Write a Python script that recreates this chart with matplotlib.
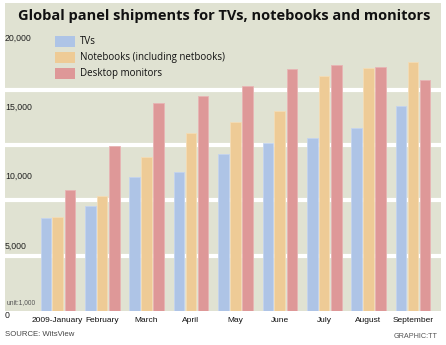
import numpy as np
import matplotlib
matplotlib.use('Agg')
import matplotlib.pyplot as plt
from matplotlib.patches import Rectangle
from matplotlib.transforms import offset_copy

# Monthly panel shipments, unit: 1,000
months = ['2009-January', 'February', 'March', 'April', 'May', 'June', 'July', 'August', 'September']
tvs = [6700, 7600, 9700, 10050, 11350, 12150, 12500, 13250, 14800]
notebooks = [6820, 8320, 11150, 12850, 13650, 14500, 17000, 17550, 18000]
monitors = [8750, 11950, 15080, 15580, 16300, 17530, 17800, 17670, 16700]

series_names = ['TVs', 'Notebooks (including netbooks)', 'Desktop monitors']
colors = ['#aec4e6', '#eecb96', '#de9898']
edges = ['#c4d4ee', '#f4dcb6', '#e8b4b4']
y_ticks = [0, 5000, 10000, 15000, 20000]
grid_vals = [4000, 8000, 12000, 16000]

narrow = ['Liberation Sans', 'DejaVu Sans']
W, H = 446, 345

fig = plt.figure(figsize=(W / 100, H / 100), dpi=100)

# beige panel behind title and plot
fig.patches.append(Rectangle((5 / W, (H - 311) / H), 436 / W, 308 / H,
                             transform=fig.transFigure, facecolor='#e0e2d2',
                             edgecolor='none', zorder=-5))

ax = fig.add_axes([5 / W, (H - 311) / H, 436 / W, 276.5 / H])
ax.set_facecolor('none')
ax.set_zorder(1)
ax.set_ylim(0, 20000)
ax.set_xlim(-1.187, 8.633)
for s in ax.spines.values():
    s.set_visible(False)
ax.set_xticks([])
ax.set_yticks([])

for g in grid_vals:
    ax.axhline(g, color='white', lw=3, zorder=1)

x = np.arange(len(months))
width = 0.24
offsets = [-0.265, 0, 0.275]
for vals, off, c, e, name in zip([tvs, notebooks, monitors], offsets, colors, edges, series_names):
    ax.bar(x + off, vals, width, color=c, edgecolor=e, linewidth=0.6, zorder=2, label=name)

# y labels sit inside the panel, just under their value
lab_tr = offset_copy(ax.transData, fig=fig, x=0, y=-4, units='dots')
for t in y_ticks[1:]:
    ax.text(-1.187, t, f'{t:,}', transform=lab_tr, ha='left', va='center',
            fontsize=6.3, family=narrow, color='#222222')
fig.text(5 / W, 1 - 315 / H, '0', ha='left', va='center', fontsize=6.3,
         family=narrow, color='#222222')
fig.text(7 / W, 1 - 303 / H, 'unit:1,000', ha='left', va='center', fontsize=4.8,
         family=narrow, color='#555555', zorder=5)

# month labels
for i, m in enumerate(months):
    ax.text(i, -400, m, ha='center', va='top', fontsize=6.0, family=narrow,
            color='#111111', clip_on=False)

# legend drawn by hand
for k, (name, c) in enumerate(zip(series_names, colors)):
    top = 36 + 16 * k
    fig.patches.append(Rectangle((55 / W, 1 - (top + 11) / H), 20 / W, 11 / H,
                                 transform=fig.transFigure, facecolor=c,
                                 edgecolor='none', zorder=3))
    fig.text(80 / W, 1 - (top + 5.5) / H, name, ha='left', va='center',
             fontsize=7, family=['Open Sans', 'DejaVu Sans'], color='#111111')

fig.text(224 / W, 1 - 16 / H, 'Global panel shipments for TVs, notebooks and monitors',
         ha='center', va='center', fontsize=10.5, fontweight='bold',
         family=['Open Sans', 'DejaVu Sans'], color='#111111')

fig.text(5 / W, 1 - 335 / H, 'SOURCE: WitsView', ha='left', va='center',
         fontsize=5.6, family=narrow, color='#444444')
fig.text(437 / W, 1 - 336 / H, 'GRAPHIC:TT', ha='right', va='center',
         fontsize=5.2, family=narrow, color='#555555')

fig.savefig('out.png', dpi=100, facecolor='white')
